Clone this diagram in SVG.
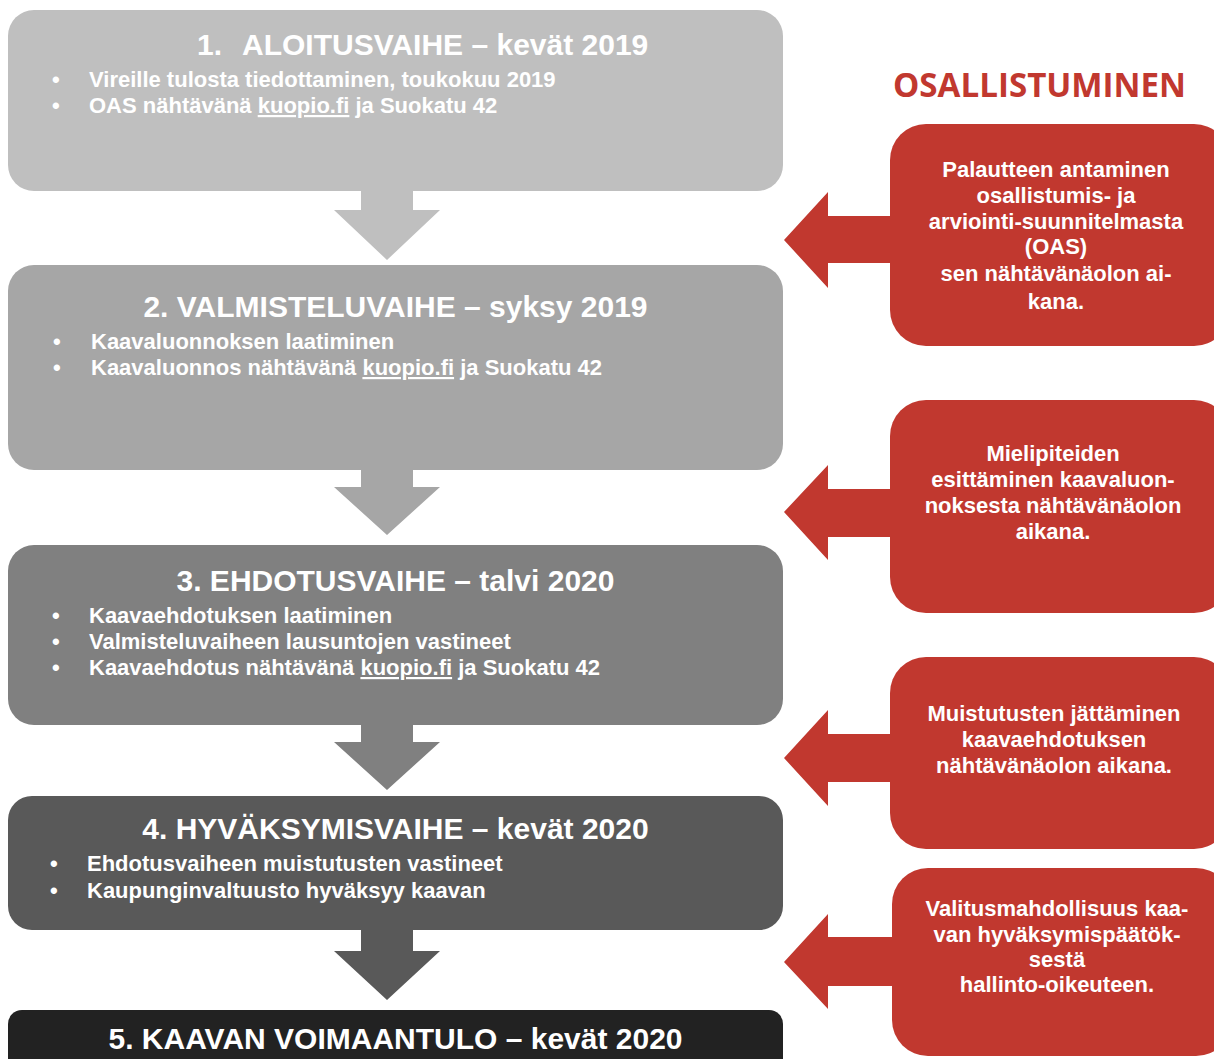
<svg xmlns="http://www.w3.org/2000/svg" width="1214" height="1059" viewBox="0 0 1214 1059">
<style>
.title{font-family:"Liberation Sans",Arial,sans-serif;font-weight:bold;font-size:30px;fill:#fff}
.bul{font-family:"Liberation Sans",Arial,sans-serif;font-weight:bold;font-size:22px;fill:#fff}
.red{font-family:"Liberation Sans",Arial,sans-serif;font-weight:bold;font-size:22px;fill:#fff;text-anchor:middle}
.rbox{fill:#c1382f}
.head{font-family:"Open Sans","Liberation Sans",sans-serif;font-weight:bold;font-size:34px;fill:#c1382f}
</style>
<rect x="0" y="0" width="1214" height="1059" fill="#ffffff"/>
<g id="connectors">
  <polygon fill="#bfbfbf" points="361,190 413,190 413,210 440,210 387,260 334,210 361,210"/>
  <polygon fill="#a6a6a6" points="361,469 413,469 413,487 440,487 387,535 334,487 361,487"/>
  <polygon fill="#808080" points="361,724 413,724 413,742 440,742 387,790 334,742 361,742"/>
  <polygon fill="#595959" points="361,929 413,929 413,951 440,951 387,1000 334,951 361,951"/>
  <polygon class="rbox" points="784,240 828,192 828,216 895,216 895,263 828,263 828,288"/>
  <polygon class="rbox" points="784,512 828,465 828,489 895,489 895,537 828,537 828,560"/>
  <polygon class="rbox" points="784,758 828,710 828,734 895,734 895,782 828,782 828,806"/>
  <polygon class="rbox" points="784,962 828,914 828,937 895,937 895,986 828,986 828,1009"/>
</g>
<g id="phase1">
  <rect x="8" y="10" width="775" height="181" rx="26" fill="#bfbfbf"/>
  <text class="title" y="55"><tspan x="197">1.</tspan><tspan x="242">ALOITUSVAIHE – kevät 2019</tspan></text>
  <text class="bul" x="52" y="87">•</text>
  <text class="bul" x="89" y="87">Vireille tulosta tiedottaminen, toukokuu 2019</text>
  <text class="bul" x="52" y="113">•</text>
  <text class="bul" x="89" y="113">OAS nähtävänä <tspan text-decoration="underline">kuopio.fi</tspan> ja Suokatu 42</text>
</g>
<g id="phase2">
  <rect x="8" y="265" width="775" height="205" rx="26" fill="#a6a6a6"/>
  <text class="title" x="395.5" y="317" text-anchor="middle">2. VALMISTELUVAIHE – syksy 2019</text>
  <text class="bul" x="53" y="349">•</text>
  <text class="bul" x="91" y="349">Kaavaluonnoksen laatiminen</text>
  <text class="bul" x="53" y="375">•</text>
  <text class="bul" x="91" y="375">Kaavaluonnos nähtävänä <tspan text-decoration="underline">kuopio.fi</tspan> ja Suokatu 42</text>
</g>
<g id="phase3">
  <rect x="8" y="545" width="775" height="180" rx="26" fill="#808080"/>
  <text class="title" x="395.5" y="591" text-anchor="middle">3. EHDOTUSVAIHE – talvi 2020</text>
  <text class="bul" x="52" y="623">•</text>
  <text class="bul" x="89" y="623">Kaavaehdotuksen laatiminen</text>
  <text class="bul" x="52" y="649">•</text>
  <text class="bul" x="89" y="649">Valmisteluvaiheen lausuntojen vastineet</text>
  <text class="bul" x="52" y="675">•</text>
  <text class="bul" x="89" y="675">Kaavaehdotus nähtävänä <tspan text-decoration="underline">kuopio.fi</tspan> ja Suokatu 42</text>
</g>
<g id="phase4">
  <rect x="8" y="796" width="775" height="134" rx="24" fill="#595959"/>
  <text class="title" x="395.5" y="839" text-anchor="middle">4. HYVÄKSYMISVAIHE – kevät 2020</text>
  <text class="bul" x="50" y="871">•</text>
  <text class="bul" x="87" y="871">Ehdotusvaiheen muistutusten vastineet</text>
  <text class="bul" x="50" y="898">•</text>
  <text class="bul" x="87" y="898">Kaupunginvaltuusto hyväksyy kaavan</text>
</g>
<g id="phase5">
  <rect x="8" y="1010" width="775" height="80" rx="14" fill="#222222"/>
  <text class="title" x="395.5" y="1049" text-anchor="middle">5. KAAVAN VOIMAANTULO – kevät 2020</text>
</g>
<g id="heading">
  <text class="head" x="893" y="97" textLength="293" lengthAdjust="spacingAndGlyphs">OSALLISTUMINEN</text>
</g>
<g id="part1">
  <rect class="rbox" x="890" y="124" width="340" height="222" rx="36"/>
  <text class="red" x="1056" y="177">Palautteen antaminen</text>
  <text class="red" x="1056" y="203">osallistumis- ja</text>
  <text class="red" x="1056" y="229">arviointi-suunnitelmasta</text>
  <text class="red" x="1056" y="254">(OAS)</text>
  <text class="red" x="1056" y="281">sen nähtävänäolon ai-</text>
  <text class="red" x="1056" y="309">kana.</text>
</g>
<g id="part2">
  <rect class="rbox" x="890" y="400" width="340" height="213" rx="36"/>
  <text class="red" x="1053" y="461">Mielipiteiden</text>
  <text class="red" x="1053" y="487">esittäminen kaavaluon-</text>
  <text class="red" x="1053" y="513">noksesta nähtävänäolon</text>
  <text class="red" x="1053" y="539">aikana.</text>
</g>
<g id="part3">
  <rect class="rbox" x="890" y="657" width="340" height="192" rx="36"/>
  <text class="red" x="1054" y="721">Muistutusten jättäminen</text>
  <text class="red" x="1054" y="747">kaavaehdotuksen</text>
  <text class="red" x="1054" y="773">nähtävänäolon aikana.</text>
</g>
<g id="part4">
  <rect class="rbox" x="892" y="868" width="340" height="188" rx="36"/>
  <text class="red" x="1057" y="916">Valitusmahdollisuus kaa-</text>
  <text class="red" x="1057" y="942">van hyväksymispäätök-</text>
  <text class="red" x="1057" y="967">sestä</text>
  <text class="red" x="1057" y="992">hallinto-oikeuteen.</text>
</g>
</svg>
